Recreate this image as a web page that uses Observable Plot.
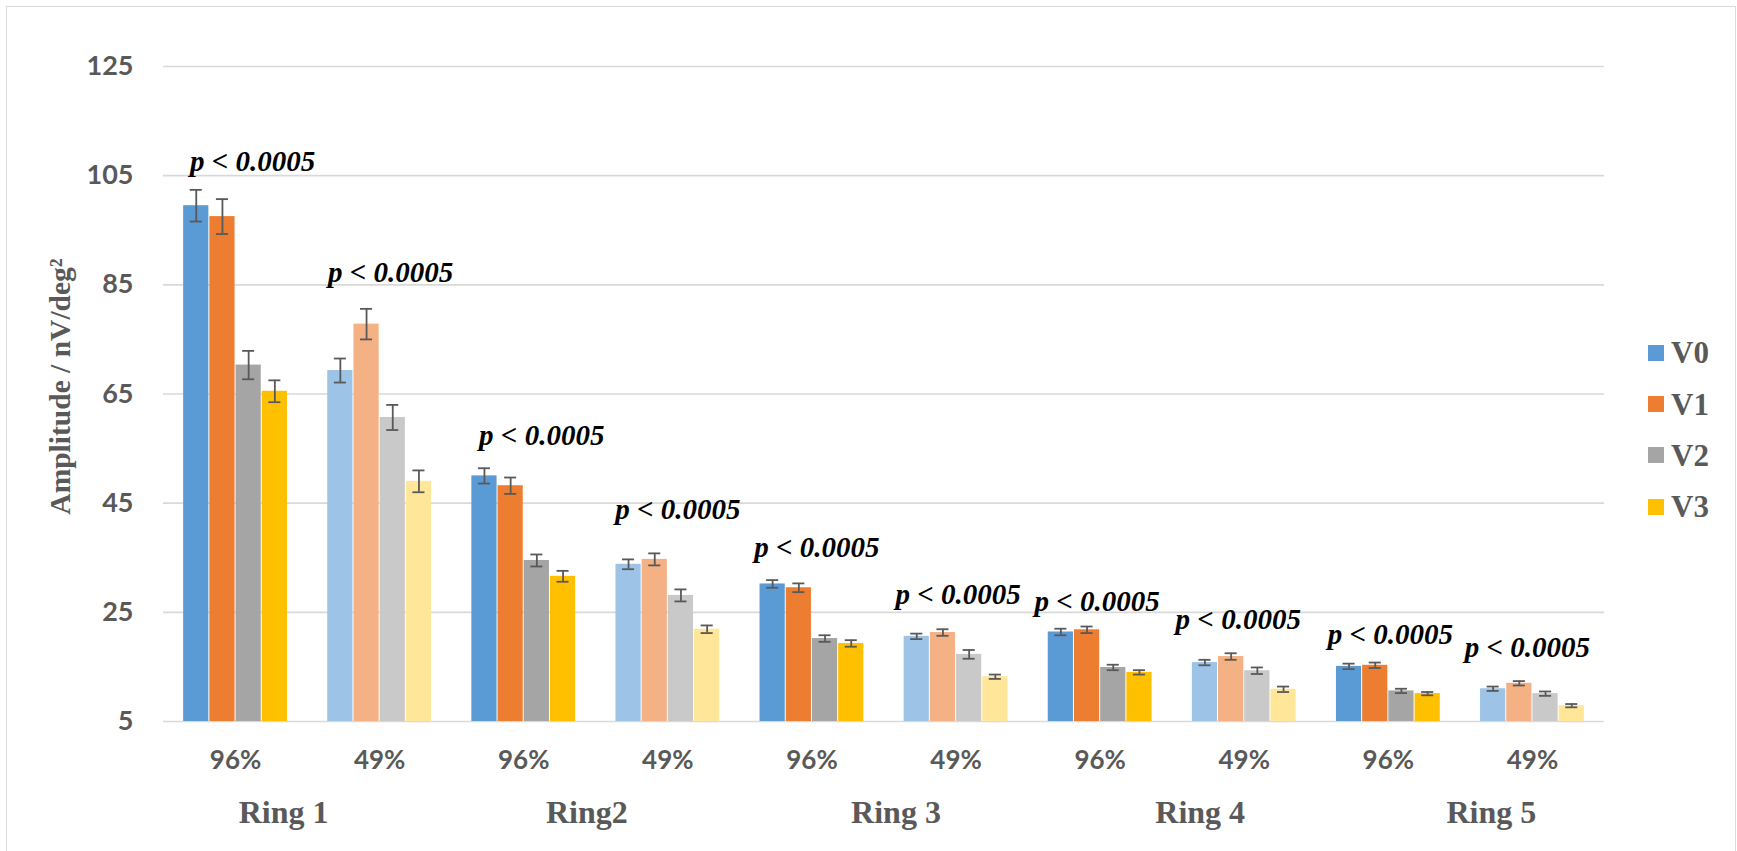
<!DOCTYPE html>
<html>
<head>
<meta charset="utf-8">
<script src="https://cdn.jsdelivr.net/npm/d3@7"></script>
<script src="https://cdn.jsdelivr.net/npm/@observablehq/plot@0.6"></script>
<style>
  html, body { margin: 0; padding: 0; background: #fff; overflow: hidden; }
  #chart { position: relative; width: 1737px; height: 851px; overflow: hidden; }
  #frame { position: absolute; left: 6px; top: 6px; width: 1730px; height: 900px;
           border: 1.5px solid #D9D9D9; box-sizing: border-box; pointer-events: none; }
  #legend { position: absolute; left: 1648px; top: 327px;
            font-family: "Liberation Serif", "Times New Roman", serif;
            font-weight: bold; font-size: 31px; color: #595959; }
  #legend .item { display: flex; align-items: center; height: 51.4px; }
  #legend .swatch { width: 16px; height: 16px; margin-right: 7px; flex: none; }
  #legend .name { line-height: 1; }
</style>
</head>
<body>
<div id="chart"><div id="frame"></div><div id="legend"></div></div>
<script>
// Categories
const rings = ["Ring 1", "Ring2", "Ring 3", "Ring 4", "Ring 5"];
const contrasts = ["96%", "49%"];
const series = ["V0", "V1", "V2", "V3"];

// Mean amplitude per group (Ring 1 96%, Ring 1 49%, Ring2 96%, ...)
const meanV0 = [99.5, 69.3, 50.0, 33.8, 30.2, 20.6, 21.4, 15.8, 15.1, 11.0];
const meanV1 = [97.5, 77.8, 48.2, 34.7, 29.5, 21.3, 21.8, 16.9, 15.3, 12.0];
const meanV2 = [70.3, 60.7, 34.5, 28.1, 20.2, 17.3, 14.9, 14.3, 10.6, 10.1];
const meanV3 = [65.5, 49.0, 31.6, 21.9, 19.3, 13.2, 14.0, 10.9, 10.1, 7.9];

// Error bar half-lengths
const errV0 = [2.9, 2.2, 1.4, 0.9, 0.7, 0.5, 0.6, 0.5, 0.5, 0.4];
const errV1 = [3.2, 2.8, 1.5, 1.1, 0.8, 0.6, 0.6, 0.6, 0.5, 0.4];
const errV2 = [2.6, 2.3, 1.1, 1.1, 0.6, 0.8, 0.5, 0.6, 0.4, 0.4];
const errV3 = [2.0, 2.0, 1.0, 0.7, 0.6, 0.4, 0.4, 0.5, 0.3, 0.3];

// Significance annotations, one per group
const pLabels = ["p < 0.0005", "p < 0.0005", "p < 0.0005", "p < 0.0005", "p < 0.0005",
                 "p < 0.0005", "p < 0.0005", "p < 0.0005", "p < 0.0005", "p < 0.0005"];

const yTicks = [5, 25, 45, 65, 85, 105, 125];
const yTitle = "Amplitude / nV/deg\u00B2";

// Styling and layout
const darkColors  = ["#5B9BD5", "#ED7D31", "#A5A5A5", "#FFC000"]; // 96% contrast
const lightColors = ["#9DC3E6", "#F4B183", "#C9C9C9", "#FFE699"]; // 49% contrast
const gray = "#595959";
const serif = "Liberation Serif, Times New Roman, serif";
const barW = 1 / 5.5;          // four bars plus a 150% gap per group
const capHalf = barW * 0.23;   // error-bar cap half width
const pLabelDx  = [17, 11, 18, 10, 5, 2, -3, -6, 2, -5];
const pLabelGap = [19, 27, 23, 34, 23, 25, 16, 24, 19, 24];
const ringLabelDx = [-24, -9, 12, 28, 31];

const means = [meanV0, meanV1, meanV2, meanV3];
const errs = [errV0, errV1, errV2, errV3];
const nGroups = rings.length * contrasts.length;
const groups = d3.range(nGroups);

const rows = groups.flatMap(g => series.map((s, si) => {
  const x1 = g + (1 - series.length * barW) / 2 + si * barW;
  return {
    g, s,
    mean: means[si][g],
    err: errs[si][g],
    x1, x2: x1 + barW, xc: x1 + barW / 2,
    fill: (g % 2 === 0 ? darkColors : lightColors)[si]
  };
}));

const groupTop = groups.map(g => d3.max(rows.filter(r => r.g === g), r => r.mean + r.err));
const pFont = 29;
const ringFont = 32;

const marks = [
  Plot.gridY(yTicks, {stroke: "#D9D9D9", strokeOpacity: 1, strokeWidth: 1.6}),
  Plot.rect(rows, {
    x1: "x1", x2: "x2", y1: yTicks[0], y2: "mean",
    fill: "fill", insetLeft: 0.5, insetRight: 0.5
  }),
  Plot.ruleX(rows, {x: "xc", y1: d => d.mean - d.err, y2: d => d.mean + d.err, stroke: gray, strokeWidth: 1.8}),
  Plot.ruleY(rows, {y: d => d.mean + d.err, x1: d => d.xc - capHalf, x2: d => d.xc + capHalf, stroke: gray, strokeWidth: 1.8}),
  Plot.ruleY(rows, {y: d => d.mean - d.err, x1: d => d.xc - capHalf, x2: d => d.xc + capHalf, stroke: gray, strokeWidth: 1.8}),
  Plot.axisY({ticks: yTicks, tickSize: 0, tickPadding: 30, fontSize: 27, fontWeight: "bold",
              fontFamily: "Lato", fill: gray, label: null}),
  Plot.axisX({ticks: groups.map(g => g + 0.5), tickFormat: d => contrasts[Math.floor(d) % 2],
              tickSize: 0, tickPadding: 29, fontSize: 26, fontWeight: "bold",
              fontFamily: "Lato", fill: gray, label: null}),
  // Y axis title
  Plot.text([yTitle], {
    frameAnchor: "left", text: d => d, rotate: -90,
    textAnchor: "middle", lineAnchor: "middle",
    dx: -103, dy: -7.5, fontSize: 29.5, fontWeight: "bold", fontFamily: serif, fill: gray
  })
];

// Significance labels above each group
groups.forEach(g => {
  marks.push(Plot.text([g], {
    x: d => d + 0.5, y: d => groupTop[d], text: d => pLabels[d],
    lineAnchor: "middle", textAnchor: "middle",
    dx: pLabelDx[g], dy: -pLabelGap[g] - 0.32 * pFont,
    fontSize: pFont, fontWeight: "bold", fontStyle: "italic", fontFamily: serif, fill: "#000"
  }));
});

// Ring labels under each pair of groups
rings.forEach((r, k) => {
  marks.push(Plot.text([k], {
    x: d => 2 * d + 1, frameAnchor: "bottom", text: d => rings[d],
    lineAnchor: "middle", textAnchor: "middle",
    dx: ringLabelDx[k], dy: 91,
    fontSize: ringFont, fontWeight: "bold", fontFamily: serif, fill: gray
  }));
});

const chart = Plot.plot({
  width: 1737,
  height: 851,
  marginLeft: 163,
  marginRight: 133,
  marginTop: 66,
  marginBottom: 130,
  x: {domain: [0, nGroups], label: null},
  y: {domain: [yTicks[0], yTicks[yTicks.length - 1]], label: null},
  color: {type: "identity"},
  style: {fontFamily: "Lato", color: gray, background: "transparent", overflow: "visible"},
  marks
});

const container = document.getElementById("chart");
container.insertBefore(chart, container.firstChild);

// Legend on the right
const legend = d3.select("#legend");
series.forEach((s, i) => {
  const item = legend.append("div").attr("class", "item");
  item.append("div").attr("class", "swatch").style("background", darkColors[i]);
  item.append("div").attr("class", "name").text(s);
});
</script>
</body>
</html>
